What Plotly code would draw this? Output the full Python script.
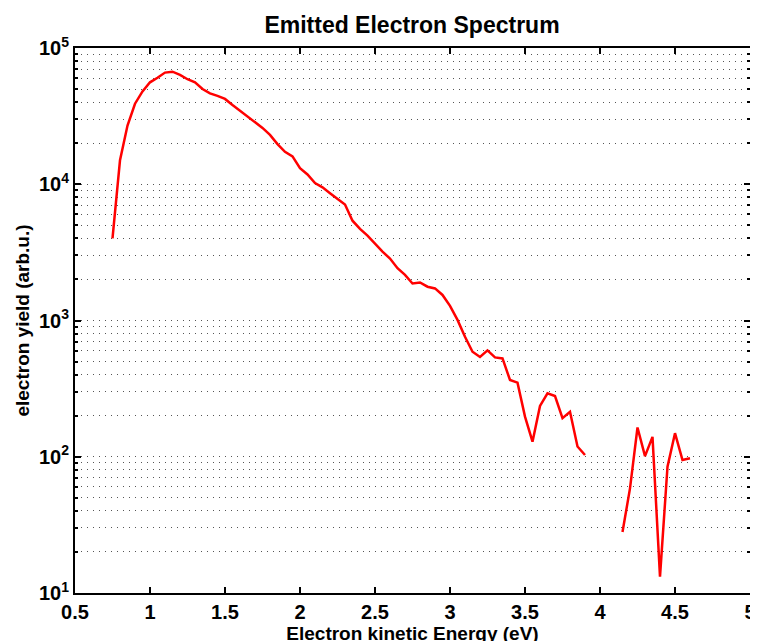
import plotly.graph_objects as go

# electron energy (eV) and yield (arb.u.)
energy_low = [0.75, 0.80, 0.85, 0.90, 0.95, 1.00, 1.05, 1.10, 1.15, 1.20,
              1.25, 1.30, 1.35, 1.40, 1.45, 1.50, 1.55, 1.60, 1.65, 1.70,
              1.75, 1.80, 1.85, 1.90, 1.95, 2.00, 2.05, 2.10, 2.15, 2.20,
              2.25, 2.30, 2.35, 2.40, 2.45, 2.50, 2.55, 2.60, 2.65, 2.70,
              2.75, 2.80, 2.85, 2.90, 2.95, 3.00, 3.05, 3.10, 3.15, 3.20,
              3.25, 3.30, 3.35, 3.40, 3.45, 3.50, 3.55, 3.60, 3.65, 3.70,
              3.75, 3.80, 3.85, 3.90]
yield_low = [4000, 15000, 27000, 39000, 48000, 56000, 60500, 66000, 67000, 63500,
             59000, 56000, 50000, 46500, 44500, 42300, 38200, 34700, 31700, 28600,
             25900, 23000, 19700, 17300, 16000, 13100, 11800, 10200, 9500, 8600,
             7800, 7100, 5400, 4700, 4200, 3650, 3200, 2850, 2420, 2160,
             1870, 1900, 1770, 1720, 1540, 1280, 1010, 760, 590, 540,
             603, 536, 527, 366, 350, 197, 129, 236, 292, 279,
             192, 214, 119, 103]

energy_high = [4.15, 4.20, 4.25, 4.30, 4.35, 4.40, 4.45, 4.50, 4.55, 4.60]
yield_high = [28, 58.6, 164, 101, 140, 13.2, 84.5, 149, 94.6, 97.5]

x_ticks = [0.5, 1, 1.5, 2, 2.5, 3, 3.5, 4, 4.5, 5]
x_labels = ["0.5", "1", "1.5", "2", "2.5", "3", "3.5", "4", "4.5", "5"]
y_decades = [1e1, 1e2, 1e3, 1e4, 1e5]
y_labels = ["10<sup>1</sup>", "10<sup>2</sup>", "10<sup>3</sup>", "10<sup>4</sup>", "10<sup>5</sup>"]
y_minor = [m * d for d in [1e1, 1e2, 1e3, 1e4] for m in range(2, 10)]

# a None between the two pieces leaves the gap where no yield was recorded
x_all = energy_low + [None] + energy_high
y_all = yield_low + [None] + yield_high

fig = go.Figure()
fig.add_trace(go.Scatter(x=x_all, y=y_all, mode="lines",
                         line=dict(color="#ff0000", width=2.5),
                         connectgaps=False, showlegend=False))

font_main = dict(family="Liberation Sans, Arial, sans-serif", size=20, color="black", weight="bold")
grid_dash = "1px,5px"

# the page body adds an 8px offset, so margins are shifted by that much
W, H = 758, 641
fig.update_layout(
    width=W, height=H,
    margin=dict(l=67, r=16, t=40, b=56, autoexpand=False),
    paper_bgcolor="white", plot_bgcolor="white",
    font=font_main,
    title=dict(text="Emitted Electron Spectrum", x=404 / W, xref="container", xanchor="center",
               y=1 - 17 / H, yref="container", yanchor="middle",
               font=dict(size=23, weight="bold")),
    xaxis=dict(range=[0.5, 5], tickvals=x_ticks, ticktext=x_labels, automargin=False,
               ticks="inside", ticklen=6, tickwidth=1.5, tickcolor="black",
               tickfont=dict(size=20, weight="bold"),
               showline=True, linecolor="black", linewidth=2, mirror="allticks",
               showgrid=False, zeroline=False,
               title=dict(text="Electron kinetic Energy (eV)", standoff=2,
                          font=dict(size=19, weight="bold"))),
    yaxis=dict(type="log", range=[1, 5], tickvals=y_decades, ticktext=y_labels, automargin=False,
               ticks="inside", ticklen=6, tickwidth=1.5, tickcolor="black",
               tickfont=dict(size=20, weight="bold"),
               showline=True, linecolor="black", linewidth=2, mirror="allticks",
               showgrid=True, gridcolor="#555555", griddash=grid_dash, gridwidth=1,
               zeroline=False,
               minor=dict(tickmode="array", tickvals=y_minor, ticks="inside",
                          ticklen=3, tickcolor="black", showgrid=True,
                          gridcolor="#555555", griddash=grid_dash, gridwidth=1),
               title=dict(text="electron yield (arb.u.)", standoff=4,
                          font=dict(size=19, weight="bold"))),
)

fig.write_html("out.html")
